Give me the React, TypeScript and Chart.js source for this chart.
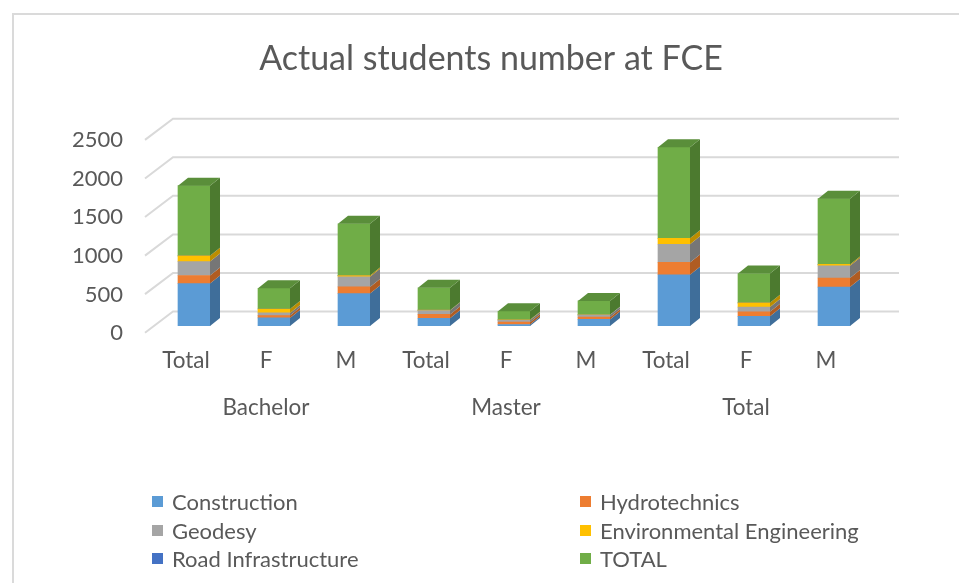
import React, { useEffect, useRef } from "react";
import { Chart, registerables } from "chart.js";

Chart.register(...registerables);

const categories = ["Total", "F", "M", "Total", "F", "M", "Total", "F", "M"];
const groups = ["Bachelor", "Master", "Total"];

const construction = [550, 105, 420, 100, 20, 85, 665, 125, 505];
const hydrotechnics = [105, 30, 87, 50, 30, 30, 160, 60, 117];
const geodesy = [180, 35, 130, 50, 25, 28, 235, 60, 158];
const environmental = [75, 50, 17, 5, 5, 2, 78, 55, 19];
const road = [0, 0, 0, 0, 0, 0, 0, 0, 0];
const totals = [910, 270, 672, 290, 110, 180, 1180, 380, 852];

const seriesNames = [
  "Construction",
  "Hydrotechnics",
  "Geodesy",
  "Environmental Engineering",
  "Road Infrastructure",
  "TOTAL",
];
const seriesData = [construction, hydrotechnics, geodesy, environmental, road, totals];
const seriesColors = ["#5B9BD5", "#ED7D31", "#A5A5A5", "#FFC000", "#4472C4", "#70AD47"];
const sideColors = ["#3F6E9A", "#B05C22", "#767676", "#BC8D00", "#2F528F", "#4C7A2F"];
const topColors = ["#4F86B8", "#CF6B28", "#8E8E8E", "#DBA600", "#3B63AA", "#5A8E3A"];

const yMax = 2500;
const yStep = 500;

const FONT = "Lato, 'Open Sans', sans-serif";
const TEXT = "#595959";
const DX = 10;
const DY = -8;

const threeD = {
  id: "threeD",
  beforeDatasetsDraw(chart: any) {
    const { ctx, chartArea } = chart;
    const y = chart.scales.y;
    ctx.save();
    ctx.strokeStyle = "#D9D9D9";
    ctx.lineWidth = 2;
    y.ticks.forEach((t: any) => {
      const py = y.getPixelForValue(t.value);
      ctx.beginPath();
      ctx.moveTo(chartArea.left - 9, py + 6.7);
      ctx.lineTo(chartArea.left + 19, py - 14.5);
      ctx.lineTo(chartArea.right + 25, py - 14.5);
      ctx.stroke();
    });
    ctx.restore();
  },
  afterDatasetsDraw(chart: any) {
    const { ctx } = chart;
    const n = chart.data.labels.length;
    ctx.save();
    for (let i = 0; i < n; i++) {
      let topIdx = -1;
      chart.data.datasets.forEach((ds: any, d: number) => {
        const el = chart.getDatasetMeta(d).data[i] as any;
        if (!el) return;
        const { x, y, base, width } = el.getProps(["x", "y", "base", "width"], true);
        const top = Math.min(y, base);
        const bottom = Math.max(y, base);
        if (bottom - top < 0.3) return;
        topIdx = d;
        const right = x + width / 2;
        ctx.fillStyle = sideColors[d];
        ctx.beginPath();
        ctx.moveTo(right, bottom);
        ctx.lineTo(right + DX, bottom + DY);
        ctx.lineTo(right + DX, top + DY);
        ctx.lineTo(right, top);
        ctx.closePath();
        ctx.fill();
      });
      if (topIdx >= 0) {
        const el = chart.getDatasetMeta(topIdx).data[i] as any;
        const { x, y, base, width } = el.getProps(["x", "y", "base", "width"], true);
        const top = Math.min(y, base);
        const left = x - width / 2;
        const right = x + width / 2;
        ctx.fillStyle = topColors[topIdx];
        ctx.beginPath();
        ctx.moveTo(left, top);
        ctx.lineTo(left + DX, top + DY);
        ctx.lineTo(right + DX, top + DY);
        ctx.lineTo(right, top);
        ctx.closePath();
        ctx.fill();
      }
    }
    ctx.restore();
  },
};

export default function App() {
  const ref = useRef<HTMLCanvasElement | null>(null);

  useEffect(() => {
    if (!ref.current) return;
    const labels = categories.map((c, i) =>
      i % 3 === 1 ? [c, groups[Math.floor(i / 3)]] : c
    );
    const chart = new Chart(ref.current, {
      type: "bar",
      data: {
        labels,
        datasets: seriesNames.map((name, d) => ({
          label: name,
          data: seriesData[d],
          backgroundColor: seriesColors[d],
          borderWidth: 0,
          barThickness: 32,
        })),
      },
      options: {
        responsive: false,
        animation: false,
        devicePixelRatio: 1,
        layout: { padding: { top: 38.5, left: 23, right: 0, bottom: 157 } },
        plugins: {
          legend: { display: false },
          tooltip: { enabled: false },
          title: {
            display: true,
            text: "Actual students number at FCE",
            color: TEXT,
            font: { family: FONT, size: 34, weight: "normal", lineHeight: 1.2 },
            padding: { top: 0, bottom: 53.9 },
          },
        },
        scales: {
          x: {
            stacked: true,
            grid: { display: false },
            border: { display: false },
            ticks: {
              color: TEXT,
              font: { family: FONT, size: 22.5, lineHeight: "47px" },
              padding: 3.5,
              labelOffset: -8,
              maxRotation: 0,
              autoSkip: false,
            },
            afterFit: (s: any) => {
              s.height = 100;
            },
          },
          y: {
            stacked: true,
            min: 0,
            max: yMax,
            grid: { display: false },
            border: { display: false },
            ticks: {
              stepSize: yStep,
              color: TEXT,
              font: { family: FONT, size: 22 },
              padding: 23,
              labelOffset: 7,
              callback: (v: any) => String(v),
            },
            afterFit: (s: any) => {
              s.width = 131;
            },
          },
          yRight: {
            position: "right",
            display: true,
            min: 0,
            max: yMax,
            grid: { display: false },
            border: { display: false },
            ticks: { display: false },
            afterFit: (s: any) => {
              s.width = 85;
            },
          },
        },
      },
      plugins: [threeD],
    });
    return () => chart.destroy();
  }, []);

  const legendRows = [
    [0, 1],
    [2, 3],
    [4, 5],
  ];
  const rowY = [501, 530, 558];
  const colX = [152, 580];

  return (
    <div
      style={{
        position: "fixed",
        left: 0,
        top: 0,
        width: 959,
        height: 583,
        background: "#fff",
        overflow: "hidden",
      }}
    >
      <div
        style={{
          position: "absolute",
          left: 12,
          top: 13,
          width: 1000,
          height: 1000,
          borderLeft: "2px solid #DADADA",
          borderTop: "2px solid #DADADA",
        }}
      />
      <canvas
        ref={ref}
        width={959}
        height={583}
        style={{ position: "absolute", left: 0, top: 0, display: "block" }}
      />
      {legendRows.map((row, r) =>
        row.map((d, c) => (
          <div
            key={d}
            style={{
              position: "absolute",
              left: colX[c],
              top: rowY[r] - 13,
              height: 26,
              display: "flex",
              alignItems: "center",
              fontFamily: FONT,
              fontSize: 22,
              color: TEXT,
              whiteSpace: "nowrap",
            }}
          >
            <span
              style={{
                display: "inline-block",
                width: 11,
                height: 11,
                background: seriesColors[d],
                marginRight: 9,
              }}
            />
            {seriesNames[d]}
          </div>
        ))
      )}
    </div>
  );
}
